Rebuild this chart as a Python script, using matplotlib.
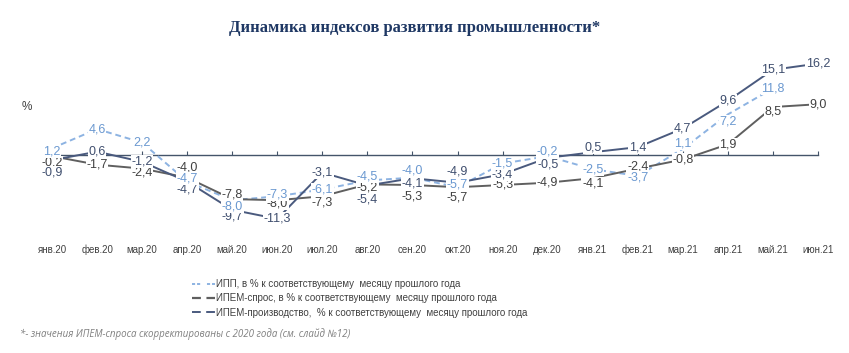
import matplotlib
matplotlib.use('Agg')
import matplotlib.pyplot as plt
from matplotlib.lines import Line2D
import matplotlib.font_manager as fm
import numpy as np

# ---- data ----
months = ['янв.20', 'фев.20', 'мар.20', 'апр.20', 'май.20', 'июн.20', 'июл.20', 'авг.20',
          'сен.20', 'окт.20', 'ноя.20', 'дек.20', 'янв.21', 'фев.21', 'мар.21', 'апр.21',
          'май.21', 'июн.21']
ipp = [1.2, 4.6, 2.2, -4.7, -8.0, -7.3, -6.1, -4.5, -4.0, -5.7, -1.5, -0.2, -2.5, -3.7,
       1.1, 7.2, 11.8, np.nan]
spros = [-0.2, -1.7, -2.4, -4.0, -7.8, -8.0, -7.3, -5.2, -5.3, -5.7, -5.3, -4.9, -4.1, -2.4,
         -0.8, 1.9, 8.5, 9.0]
proizv = [-0.9, 0.6, -1.2, -4.7, -9.7, -11.3, -3.1, -5.4, -4.1, -4.9, -3.4, -0.5, 0.5, 1.4,
          4.7, 9.6, 15.1, 16.2]

series_names = ['ИПП, в % к соответствующему  месяцу прошлого года',
                'ИПЕМ-спрос, в % к соответствующему  месяцу прошлого года',
                'ИПЕМ-производство,  % к соответствующему  месяцу прошлого года']

# label offsets in pixels (positive = downward), style only
ipp_off = {0: 3, 3: -3, 4: 6, 5: -2, 7: -4, 8: -7, 9: -3, 11: -5, 13: 2, 14: -5, 15: 7}
spros_off = {0: 6, 2: 4, 3: -10, 4: -5, 5: 3, 6: 6, 7: 3, 8: 12, 9: 10, 12: 5, 13: -2, 16: 4}
proizv_off = {0: 12, 3: 8, 4: 7, 7: 14, 8: 5, 9: -11, 11: 7, 12: -5}

names = {f.name for f in fm.fontManager.ttflist}
narrow = 'Liberation Sans Narrow' if 'Liberation Sans Narrow' in names else 'Liberation Sans'

C_IPP_LINE = '#8DB3E2'
C_IPP_TXT = '#6A98D0'
C_SPR_LINE = '#5F5F5F'
C_SPR_TXT = '#404040'
C_PRO_LINE = '#4A5A7E'
C_PRO_TXT = '#3F4E6E'

fig = plt.figure(figsize=(8.49, 3.53), dpi=100)
ax = fig.add_axes([29.5 / 849, (353 - 239.75) / 353, 811 / 849, 192 / 353])
ax.set_xlim(-0.5, len(months) - 0.5)
ax.set_ylim(-15, 19)
x = np.arange(len(months))

ax.plot(x, ipp, color=C_IPP_LINE, lw=1.4, dashes=(3, 2), zorder=2)
ax.plot(x, spros, color=C_SPR_LINE, lw=1.4, zorder=2)
ax.plot(x, proizv, color=C_PRO_LINE, lw=1.4, zorder=2)

def fmt(v):
    return f"{v:.1f}".replace('.', ',')

def labels(vals, offs, color, z):
    for i, v in enumerate(vals):
        if np.isnan(v):
            continue
        dy = -offs.get(i, 0) * 0.72
        ax.annotate(fmt(v), (i, v), xytext=(0, dy), textcoords='offset points',
                    ha='center', va='center', fontsize=9, color=color,
                    family=['Liberation Sans', 'DejaVu Sans'], zorder=z,
                    bbox=dict(boxstyle='square,pad=0.05', fc='white', ec='none'))

labels(spros, spros_off, C_SPR_TXT, 4)
labels(proizv, proizv_off, C_PRO_TXT, 5)
labels(ipp, ipp_off, C_IPP_TXT, 6)

# zero axis
for s in ['top', 'right', 'left']:
    ax.spines[s].set_visible(False)
ax.spines['bottom'].set_position(('data', 0))
ax.spines['bottom'].set_bounds(0, len(months) - 1)
ax.spines['bottom'].set_color('#44546A')
ax.spines['bottom'].set_linewidth(1.0)
ax.spines['bottom'].set_zorder(1)
ax.set_xticks(x)
ax.tick_params(axis='x', direction='in', length=3, color='#44546A', labelbottom=False)
ax.set_yticks([])

sec = ax.secondary_xaxis('bottom')
sec.set_xticks(x, months)
sec.tick_params(length=0, labelsize=7, labelcolor='#404040', pad=9.5)
for lab in sec.get_xticklabels():
    lab.set_family([narrow, 'DejaVu Sans'])
    lab.set_verticalalignment('baseline')
sec.spines['bottom'].set_visible(False)

fig.text(415 / 849, 1 - 28 / 353, 'Динамика индексов развития промышленности*',
         ha='center', va='center', fontsize=12, fontweight='bold', color='#1F3864',
         family=['Liberation Serif', 'DejaVu Serif'])
fig.text(27 / 849, 1 - 107 / 353, '%', ha='center', va='center', fontsize=8.5,
         color='#404040', family=['Liberation Sans', 'DejaVu Sans'])

handles = [Line2D([], [], color=C_IPP_LINE, lw=1.4, dashes=(1.6, 1.0, 1.6, 3.5, 1.6, 1.0, 1.6, 10)),
           Line2D([], [], color=C_SPR_LINE, lw=1.6, dashes=(4.0, 2.5, 4.0, 10)),
           Line2D([], [], color=C_PRO_LINE, lw=1.4, dashes=(4.5, 2.8, 4.5, 10))]
leg = fig.legend(handles, series_names, loc='upper left', bbox_to_anchor=(192 / 849, 1 - 279 / 353),
                 frameon=False, handlelength=2.4, handletextpad=0.1,
                 labelspacing=0.45, borderaxespad=0, borderpad=0,
                 prop={'family': [narrow, 'DejaVu Sans'], 'size': 7})
for t in leg.get_texts():
    t.set_color('#404040')

fig.text(20 / 849, 1 - 334 / 353, '*- значения ИПЕМ-спроса скорректированы с 2020 года (см. слайд №12)',
         ha='left', va='center', fontsize=7, style='italic', color='#7F7F7F',
         family=['Open Sans', 'DejaVu Sans'])

fig.savefig('out.png', dpi=100)
